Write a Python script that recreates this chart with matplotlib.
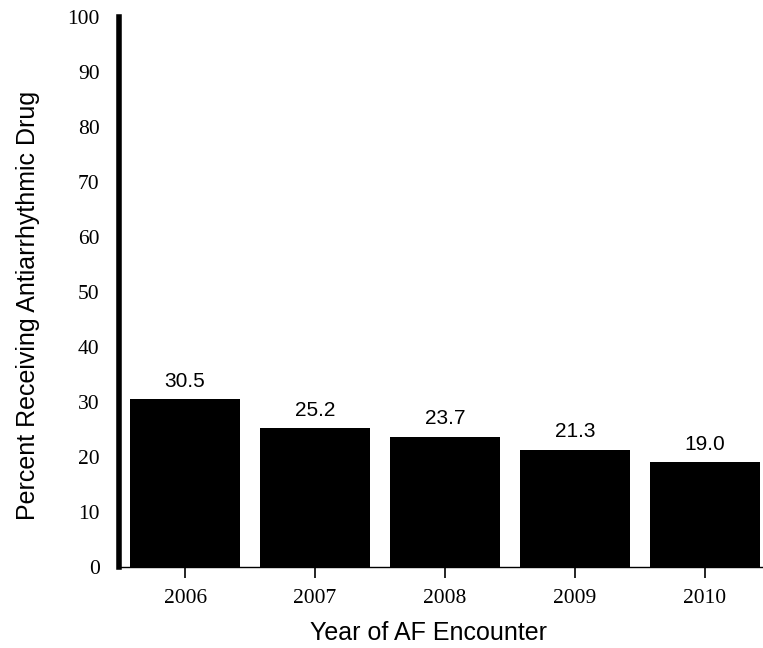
import matplotlib.pyplot as plt
import numpy as np

years = ["2006", "2007", "2008", "2009", "2010"]
percents = [30.5, 25.2, 23.7, 21.3, 19.0]
yticks = [0, 10, 20, 30, 40, 50, 60, 70, 80, 90, 100]

fig = plt.figure(figsize=(7.63, 6.48), dpi=100)
ax = fig.add_axes([0.156, 0.125, 0.844, 0.849])

x = np.arange(len(years))
ax.bar(x, percents, width=0.85, color="black", zorder=2)
for xi, v in zip(x, percents):
    ax.annotate(f"{v:.1f}", (xi, v), xytext=(0, 6), textcoords="offset points",
                ha="center", va="bottom", fontsize=15, family="Liberation Sans")

ax.set_xlim(-0.508, 4.446)
ax.set_ylim(0, 100)
ax.set_yticks(yticks)
ax.set_xticks(x)
ax.set_xticklabels(years)

for lab in ax.get_yticklabels() + ax.get_xticklabels():
    lab.set_family("Liberation Serif")
    lab.set_fontsize(15.5)

ax.tick_params(axis="y", length=0, pad=14)
ax.tick_params(axis="x", length=8, width=1.2, pad=8)

ax.spines["top"].set_visible(False)
ax.spines["right"].set_visible(False)
ax.spines["left"].set_linewidth(4)
ax.spines["bottom"].set_linewidth(1)

ax.set_xlabel("Year of AF Encounter", fontsize=18, family="Liberation Sans")
ax.set_ylabel("Percent Receiving Antiarrhythmic Drug", fontsize=18, family="Liberation Sans")
ax.xaxis.set_label_coords(0.48, -0.098)
ax.yaxis.set_label_coords(-0.122, 0.476)

fig.savefig("out.png", dpi=100)
